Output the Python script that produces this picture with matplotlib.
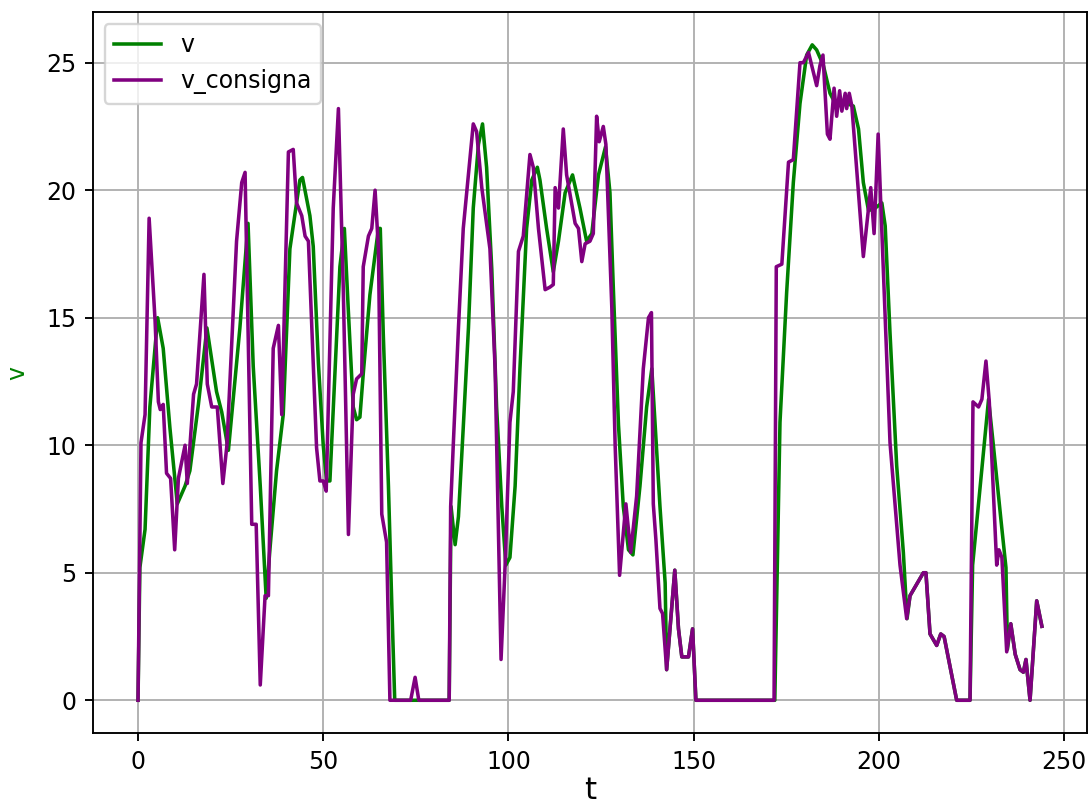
import matplotlib
matplotlib.use("Agg")
import matplotlib.pyplot as plt

# v_consigna (set-point) vertices
t_consigna = [0, 0.8, 1.9, 3.0, 4.6, 5.5, 6.0, 6.8, 7.7, 8.8, 9.9, 10.9, 12.7, 13.3, 15.0, 15.8, 17.8,
              18.7, 19.9, 21.4, 22.9, 24.0, 26.6, 28.0, 28.9, 30.7, 31.9, 33.0, 34.3, 35.2, 36.5, 37.9,
              38.8, 40.6, 41.9, 42.8, 44.2, 45.1, 46.0, 48.2, 49.1, 50.0, 50.8, 52.7, 54.1, 55.4, 56.8,
              58.1, 59.0, 60.4, 60.8, 62.2, 63.1, 64.0, 64.9, 65.8, 67.1, 68.0, 73.6, 74.8, 75.8, 84.0,
              84.4, 85.1, 86.5, 87.8, 90.5, 91.4, 92.8, 95.0, 96.4, 97.7, 98.0, 99.1, 100.4, 101.3, 102.7,
              104.0, 105.8, 106.7, 108.1, 109.9, 111.2, 112.1, 112.6, 113.5, 114.8, 115.7, 118.0, 118.9,
              119.8, 120.7, 122.0, 122.9, 123.8, 124.5, 125.6, 126.3, 127.9, 128.8, 130.0, 131.7, 133.0,
              134.6, 136.4, 137.8, 138.6, 139.1, 139.8, 140.9, 141.6, 142.7, 144.9, 145.9, 146.8, 148.6,
              149.7, 150.6, 171.7, 172.3, 173.8, 175.6, 176.9, 178.7, 179.6, 181.0, 183.2, 184.1, 184.9,
              186.1, 186.8, 187.9, 188.6, 189.4, 190.0, 190.9, 191.3, 192.0, 192.7, 195.8, 196.7, 197.8,
              198.7, 199.8, 200.5, 203.0, 205.7, 207.5, 208.4, 212.0, 212.7, 213.8, 215.6, 216.7, 217.6,
              221.0, 224.6, 225.4, 226.9, 227.8, 228.9, 229.8, 231.8, 232.4, 233.2, 234.5, 235.6, 236.8,
              238.1, 239.0, 239.7, 240.8, 242.6, 244.0]
v_consigna = [0, 10.1, 11.2, 18.9, 14.9, 11.7, 11.4, 11.6, 8.9, 8.7, 5.9, 8.7, 10.0, 8.5, 12.0, 12.4, 16.7,
              12.4, 11.5, 11.5, 8.5, 10.0, 18.0, 20.3, 20.7, 6.9, 6.9, 0.6, 4.1, 4.1, 13.8, 14.7,
              11.2, 21.5, 21.6, 19.5, 19.0, 18.2, 18.0, 9.9, 8.6, 8.6, 8.2, 19.3, 23.2, 16.2, 6.5,
              12.0, 12.6, 12.8, 17.0, 18.2, 18.5, 20.0, 17.7, 7.3, 6.2, 0, 0, 0.9, 0, 0,
              7.6, 10.0, 14.6, 18.5, 22.6, 22.3, 20.1, 17.7, 13.0, 3.8, 1.6, 5.3, 10.9, 12.1, 17.6,
              18.2, 21.4, 20.9, 18.5, 16.1, 16.2, 16.3, 20.1, 19.3, 22.4, 20.6, 18.7, 18.5,
              17.2, 17.9, 18.0, 18.3, 22.9, 21.9, 22.5, 21.8, 15.4, 10.0, 4.9, 7.7, 5.8,
              8.0, 13.0, 15.0, 15.2, 7.7, 6.3, 3.6, 3.4, 1.2, 5.1, 2.8, 1.7, 1.7,
              2.8, 0, 0, 17.0, 17.1, 21.1, 21.2, 25.0, 25.0, 25.4, 24.1, 24.9, 25.3,
              22.2, 22.0, 24.0, 22.9, 23.9, 23.1, 23.8, 23.2, 23.8, 23.3, 17.4, 18.6, 20.1,
              18.3, 22.2, 19.5, 10.1, 5.3, 3.2, 4.1, 5.0, 5.0, 2.6, 2.15, 2.6, 2.5,
              0, 0, 11.7, 11.5, 11.8, 13.3, 11.7, 5.3, 5.9, 5.6, 1.9, 3.0, 1.8,
              1.2, 1.1, 1.6, 0, 3.9, 2.9]

t_v = [0, 0.5, 1.9, 3.2, 5.3, 6.8, 8.6, 10.6, 12.7, 14.0, 16.3, 18.6, 21.2, 22.6, 24.4, 27.5, 29.7,
       31.1, 33.0, 34.6, 35.6, 37.4, 39.2, 41.0, 43.7, 44.4, 46.4, 47.3, 48.7, 50.0, 50.9, 51.8,
       54.5, 55.7, 56.8, 58.1, 59.0, 59.9, 60.8, 62.6, 64.9, 65.4, 66.2, 67.6, 68.5, 69.3, 84.0,
       84.5, 85.6, 86.5, 87.8, 89.2, 90.5, 91.9, 93.0, 94.1, 95.5, 96.8, 98.2, 99.3, 100.4, 101.8,
       103.1, 104.9, 106.3, 107.8, 108.5, 110.3, 112.1, 113.5, 115.3, 117.3, 119.3, 121.1, 122.5,
       124.3, 126.2, 127.4, 128.3, 129.7, 131.0, 132.4, 133.6, 135.5, 137.3, 138.7, 139.6, 140.9,
       142.3, 142.7, 144.9, 145.9, 146.8, 148.6, 149.7, 150.6, 171.9, 173.3, 175.1, 176.9, 178.7,
       180.5, 182.0, 183.2, 185.0, 186.8, 188.6, 191.3, 193.1, 194.5, 195.8, 197.2, 199.0, 200.8,
       201.7, 203.0, 204.8, 206.6, 207.6, 208.4, 212.0, 212.7, 213.8, 215.6, 216.7, 217.6, 221.0,
       224.6, 225.3, 229.6, 230.9, 233.0, 234.3, 234.7, 235.6, 236.8, 238.1, 239.0, 239.7, 240.8,
       242.6, 244.0]
v = [0, 5.2, 6.7, 11.5, 15.0, 13.8, 10.7, 7.7, 8.4, 9.0, 11.6, 14.6, 12.1, 11.3, 9.8, 14.6, 18.7,
     13.1, 8.4, 4.0, 5.9, 9.0, 11.2, 17.7, 20.4, 20.5, 19.0, 17.8, 13.2, 10.0, 8.6, 8.6,
     17.0, 18.5, 15.2, 11.5, 11.0, 11.1, 12.8, 15.9, 18.5, 18.5, 14.4, 8.4, 3.8, 0, 0,
     7.6, 6.1, 7.2, 10.7, 14.6, 19.3, 21.8, 22.6, 20.9, 16.9, 11.5, 7.6, 5.3, 5.6, 8.4,
     13.0, 18.5, 20.4, 20.9, 20.4, 18.5, 16.8, 18.0, 19.9, 20.6, 19.3, 18.0, 18.3,
     20.6, 21.7, 19.9, 16.2, 10.8, 7.6, 5.9, 5.7, 8.4, 11.5, 13.0, 10.8, 7.6,
     4.6, 1.2, 5.1, 2.8, 1.7, 1.7, 2.8, 0, 0, 10.9, 16.0, 20.3, 23.4,
     25.3, 25.7, 25.5, 24.9, 23.8, 23.3, 23.4, 23.3, 22.4, 20.3, 19.2, 19.3, 19.5,
     18.6, 14.4, 9.2, 5.8, 3.2, 4.1, 5.0, 5.0, 2.6, 2.15, 2.6, 2.5, 0,
     0, 5.3, 11.8, 10.0, 7.0, 5.2, 2.0, 3.0, 1.8, 1.2, 1.1, 1.6, 0,
     3.9, 2.9]

fig = plt.figure(figsize=(1092 / 170, 805 / 170), dpi=170)
ax = fig.add_axes([0.085, 0.0894, 0.9105, 0.8956])
ax.plot(t_v, v, color="green", label="v")
ax.plot(t_consigna, v_consigna, color="purple", label="v_consigna")
ax.set_xlabel("t", fontsize=13, labelpad=1)
ax.set_ylabel("v", color="green", labelpad=7)
ax.grid(True)
ax.legend(loc="upper left")
fig.savefig("out.png", dpi=170)
